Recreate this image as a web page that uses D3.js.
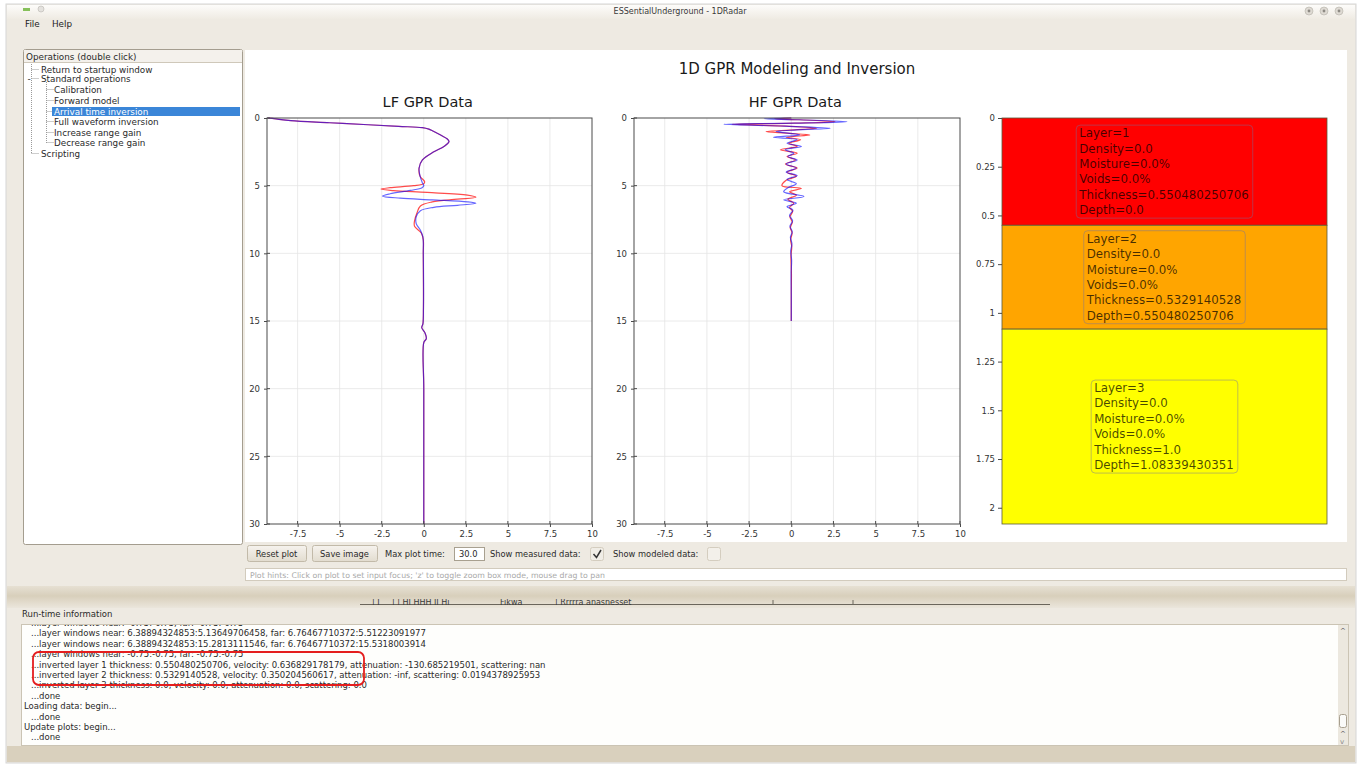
<!DOCTYPE html>
<html><head><meta charset="utf-8">
<script src="https://cdn.jsdelivr.net/npm/d3@7"></script>
<style>
html,body{margin:0;padding:0;background:#fff;}
svg{display:block;font-family:"DejaVu Sans",sans-serif;}
</style></head><body>
<svg id="app" width="1361" height="771"></svg>
<script>
// ---- Trace data: [two-way time, amplitude] ----
const ampTicks = [-7.5, -5, -2.5, 0, 2.5, 5, 7.5, 10];
const timeTicks = [0, 5, 10, 15, 20, 25, 30];
const depthTicks = [0, 0.25, 0.5, 0.75, 1, 1.25, 1.5, 1.75, 2];

const lfMeasured = [[0,-9.28],[0.05,-8.9],[0.2,-7.9],[0.35,-5.6],[0.5,-3.3],[0.62,-1.5],[0.71,-0.08],[0.82,0.3],[0.94,0.51],[1.26,1.0],[1.55,1.4],[1.75,1.5],[2.1,1.2],[2.5,0.6],[3.1,-0.08],[3.7,-0.28],[4.3,-0.22],[4.8,-0.08],[5.0,0.0],[5.15,-0.1],[5.35,-0.8],[5.6,-2.0],[5.77,-2.45],[5.92,-1.4],[6.05,0.5],[6.2,2.6],[6.3,3.1],[6.45,2.0],[6.6,0.6],[6.85,-0.2],[7.3,-0.45],[7.8,-0.45],[8.3,-0.2],[8.8,-0.05],[10,-0.03],[14,-0.02],[15.2,-0.05],[15.5,-0.12],[15.9,0.08],[16.3,0.15],[16.6,0.0],[20,0],[30,0]];
const lfModeled = [[0,-9.28],[0.05,-8.9],[0.2,-7.9],[0.35,-5.6],[0.5,-3.3],[0.62,-1.5],[0.71,-0.08],[0.82,0.3],[0.94,0.51],[1.26,1.0],[1.55,1.4],[1.75,1.5],[2.1,1.2],[2.5,0.6],[3.1,-0.08],[3.7,-0.28],[4.3,-0.22],[4.7,0.05],[4.85,0.0],[5.0,-0.6],[5.15,-2.0],[5.25,-2.55],[5.37,-1.8],[5.5,0.2],[5.7,2.6],[5.86,3.1],[6.0,2.0],[6.2,0.5],[6.5,-0.2],[7.0,-0.4],[7.6,-0.55],[8.0,-0.55],[8.5,-0.15],[9.0,-0.03],[10,-0.03],[14,-0.02],[15.2,-0.05],[15.5,-0.12],[15.9,0.08],[16.3,0.15],[16.6,0.0],[20,0],[30,0]];

const hfMeasured = [[0,0],[0.05,-1.6],[0.13,0.4],[0.27,3.3],[0.38,0.2],[0.47,-4.0],[0.6,-0.4],[0.76,2.3],[0.88,0.3],[1.0,-0.9],[1.12,-0.2],[1.25,0.5],[1.43,-1.05],[1.6,0.35],[1.87,-0.25],[2.1,0.6],[2.35,-0.35],[2.6,0.15],[2.85,-0.2],[3.1,0.35],[3.4,-0.3],[3.7,0.3],[4.0,-0.3],[4.25,0.35],[4.55,-0.25],[4.85,0.3],[5.15,-0.2],[5.45,-0.45],[5.8,0.75],[6.05,-0.45],[6.3,0.3],[6.55,-0.25],[6.8,0.1],[7.2,-0.1],[7.6,0.08],[8.0,-0.08],[8.4,0.06],[8.8,-0.05],[9.3,0.04],[9.8,-0.03],[10.5,0.02],[11.5,-0.01],[13,0],[15,0]];
const hfModeled = [[0,0],[0.05,-1.0],[0.13,0.5],[0.27,2.6],[0.38,0.2],[0.47,-3.5],[0.6,-0.3],[0.76,1.5],[0.88,0.2],[1.0,-1.5],[1.12,-0.3],[1.25,1.1],[1.43,-0.3],[1.6,0.55],[1.87,-0.15],[2.1,0.35],[2.35,-0.65],[2.6,0.35],[2.85,-0.25],[3.1,0.25],[3.4,-0.35],[3.7,0.35],[4.0,-0.25],[4.3,0.3],[4.6,-0.3],[5.0,-0.55],[5.2,0.6],[5.45,-0.1],[5.7,0.3],[6.0,-0.2],[6.3,0.15],[6.6,-0.1],[6.9,0.08],[7.3,-0.08],[7.7,0.06],[8.1,-0.06],[8.5,0.05],[9.0,-0.04],[9.5,0.03],[10.2,-0.02],[11.5,0.01],[13,0],[15,0]];

// ---- Inverted layer model ----
const layerIds = [1, 2, 3];
const layerDensity = ["0.0", "0.0", "0.0"];
const layerMoisture = ["0.0%", "0.0%", "0.0%"];
const layerVoids = ["0.0%", "0.0%", "0.0%"];
const layerThickness = ["0.550480250706", "0.5329140528", "1.0"];
const layerDepth = ["0.0", "0.550480250706", "1.08339430351"];

// ---- Run-time log ----
const logLines = [
  "...layer windows near: -0.75:-0.75, far: -0.75:-0.75",
  "...layer windows near: 6.38894324853:5.13649706458, far: 6.76467710372:5.51223091977",
  "...layer windows near: 6.38894324853:15.2813111546, far: 6.76467710372:15.5318003914",
  "...layer windows near: -0.75:-0.75, far: -0.75:-0.75",
  "...inverted layer 1 thickness: 0.550480250706, velocity: 0.636829178179, attenuation: -130.685219501, scattering: nan",
  "...inverted layer 2 thickness: 0.5329140528, velocity: 0.350204560617, attenuation: -inf, scattering: 0.0194378925953",
  "...inverted layer 3 thickness: 0.0, velocity: 0.0, attenuation: 0.0, scattering: 0.0",
  "...done",
  "Loading data: begin...",
  "...done",
  "Update plots: begin...",
  "...done"
];

const treeItems = [
  {label: "Return to startup window", level: 0},
  {label: "Standard operations", level: 0, open: true},
  {label: "Calibration", level: 1},
  {label: "Forward model", level: 1},
  {label: "Arrival time inversion", level: 1, selected: true},
  {label: "Full waveform inversion", level: 1},
  {label: "Increase range gain", level: 1},
  {label: "Decrease range gain", level: 1},
  {label: "Scripting", level: 0}
];

const layerColors = ["#ff0000", "#ffa500", "#ffff00"];

const svg = d3.select("#app");
const defs = svg.append("defs");

// ---------- window chrome ----------
svg.append("rect").attr("x", 0).attr("y", 0).attr("width", 1361).attr("height", 771).attr("fill", "#ffffff");
svg.append("rect").attr("x", 6).attr("y", 4).attr("width", 1350).attr("height", 759)
  .attr("fill", "#eeeae2").attr("stroke", "#d6d6d6");
const tb = defs.append("linearGradient").attr("id", "tbar").attr("x1", 0).attr("y1", 0).attr("x2", 0).attr("y2", 1);
tb.append("stop").attr("offset", 0).attr("stop-color", "#fdfcfa");
tb.append("stop").attr("offset", 1).attr("stop-color", "#efebe3");
svg.append("rect").attr("x", 7).attr("y", 5).attr("width", 1348).attr("height", 14).attr("fill", "url(#tbar)");
svg.append("rect").attr("x", 23).attr("y", 8).attr("width", 7).attr("height", 3).attr("fill", "#86c05a");
svg.append("circle").attr("cx", 41).attr("cy", 9).attr("r", 3).attr("fill", "#e4e2de").attr("stroke", "#b8b6b0").attr("stroke-width", 0.6);
svg.append("text").attr("x", 680).attr("y", 14).attr("text-anchor", "middle")
  .attr("font-size", 8).attr("fill", "#3a3a3a").text("ESSentialUnderground - 1DRadar");
[1309, 1324, 1339].forEach(cx => {
  svg.append("circle").attr("cx", cx).attr("cy", 11).attr("r", 4).attr("fill", "#dedad3").attr("stroke", "#b4b0a8").attr("stroke-width", 0.6);
  svg.append("circle").attr("cx", cx).attr("cy", 11).attr("r", 1.4).attr("fill", "#8d8a84");
});
svg.append("text").attr("x", 25).attr("y", 27).attr("font-size", 8.8).attr("fill", "#222").text("File");
svg.append("text").attr("x", 52).attr("y", 27).attr("font-size", 8.8).attr("fill", "#222").text("Help");

// ---------- operations tree ----------
svg.append("rect").attr("x", 23.5).attr("y", 49.5).attr("width", 219).attr("height", 495).attr("rx", 2)
  .attr("fill", "#ffffff").attr("stroke", "#a49d8f");
svg.append("rect").attr("x", 24).attr("y", 50).attr("width", 218).attr("height", 12).attr("fill", "#f4f1ec");
svg.append("line").attr("x1", 24).attr("x2", 242).attr("y1", 62.5).attr("y2", 62.5).attr("stroke", "#cfc8ba");
svg.append("text").attr("x", 26).attr("y", 60).attr("font-size", 8.8).attr("fill", "#2a2a2a").text("Operations (double click)");
const rowY = [70, 79, 90, 101, 112, 122, 133, 143, 154];
const tree = svg.append("g");
tree.append("line").attr("x1", 31.5).attr("x2", 31.5).attr("y1", 64).attr("y2", rowY[8]).attr("stroke", "#9a9a9a").attr("stroke-dasharray", "1,1");
tree.append("line").attr("x1", 46.5).attr("x2", 46.5).attr("y1", rowY[1] + 3).attr("y2", rowY[7]).attr("stroke", "#9a9a9a").attr("stroke-dasharray", "1,1");
treeItems.forEach((d, i) => {
  const y = rowY[i];
  const x0 = d.level === 0 ? 31.5 : 46.5;
  tree.append("line").attr("x1", x0).attr("x2", x0 + 8).attr("y1", y - 0.5).attr("y2", y - 0.5)
    .attr("stroke", "#9a9a9a").attr("stroke-dasharray", "1,1");
  if (d.selected) {
    tree.append("rect").attr("x", 52).attr("y", y - 5).attr("width", 188).attr("height", 9).attr("fill", "#3b86d8");
  }
  if (d.open) {
    tree.append("text").attr("x", 27.5).attr("y", y + 3).attr("font-size", 9).attr("fill", "#333").text("-");
  }
  tree.append("text").attr("x", d.level === 0 ? 41 : 54).attr("y", y + 3)
    .attr("font-size", 8.8).attr("fill", d.selected ? "#ffffff" : "#2a2a2a").text(d.label);
});

// ---------- figure canvas ----------
svg.append("rect").attr("x", 245).attr("y", 50).attr("width", 1102).attr("height", 492).attr("fill", "#ffffff");
svg.append("text").attr("x", 797).attr("y", 74).attr("text-anchor", "middle")
  .attr("font-size", 15).attr("fill", "#1a1a1a").text("1D GPR Modeling and Inversion");

const plotTop = 118, plotBottom = 524;
const tScale = d3.scaleLinear().domain([0, 30]).range([plotTop, plotBottom]);

function tracePanel(left, right, title, modeled, measured) {
  const ampDomainMin = -9.32;
  const x = d3.scaleLinear().domain([ampDomainMin, 10]).range([left, right]);
  const g = svg.append("g");
  g.append("text").attr("x", x(0) + 4).attr("y", 107).attr("text-anchor", "middle")
    .attr("font-size", 14.5).attr("fill", "#1a1a1a").text(title);
  // grid
  g.append("g").selectAll("line").data(ampTicks.slice(0, -1)).join("line")
    .attr("x1", d => x(d)).attr("x2", d => x(d)).attr("y1", plotTop).attr("y2", plotBottom)
    .attr("stroke", "#e4e4e4").attr("stroke-width", 0.8);
  g.append("g").selectAll("line").data(timeTicks.slice(1, -1)).join("line")
    .attr("x1", left).attr("x2", right).attr("y1", d => tScale(d)).attr("y2", d => tScale(d))
    .attr("stroke", "#e4e4e4").attr("stroke-width", 0.8);
  // traces
  const line = d3.line().x(d => x(d[1])).y(d => tScale(d[0])).curve(d3.curveCatmullRom.alpha(0.5));
  g.append("path").datum(modeled).attr("d", line).attr("fill", "none")
    .attr("stroke", "#ff0000").attr("stroke-opacity", 0.7).attr("stroke-width", 1.2);
  g.append("path").datum(measured).attr("d", line).attr("fill", "none")
    .attr("stroke", "#0000ff").attr("stroke-opacity", 0.6).attr("stroke-width", 1.2);
  // frame
  g.append("rect").attr("x", left).attr("y", plotTop).attr("width", right - left).attr("height", plotBottom - plotTop)
    .attr("fill", "none").attr("stroke", "#4a4a4a").attr("stroke-width", 1);
  // axes
  const ax = g.append("g").attr("transform", `translate(0,${plotBottom})`)
    .call(d3.axisBottom(x).tickValues(ampTicks).tickSize(3).tickPadding(4).tickFormat(d => String(d)));
  const ay = g.append("g").attr("transform", `translate(${left},0)`)
    .call(d3.axisLeft(tScale).tickValues(timeTicks).tickSize(3).tickPadding(4).tickFormat(d => String(d)));
  [ax, ay].forEach(a => {
    a.select(".domain").remove();
    a.selectAll("line").attr("stroke", "#4a4a4a");
    a.selectAll("text").attr("font-size", 8.5).attr("fill", "#333").attr("font-family", "DejaVu Sans");
  });
  // inner tick halves
  g.append("g").selectAll("line").data(ampTicks).join("line")
    .attr("x1", d => x(d)).attr("x2", d => x(d)).attr("y1", plotBottom - 3).attr("y2", plotBottom)
    .attr("stroke", "#4a4a4a");
  g.append("g").selectAll("line").data(timeTicks).join("line")
    .attr("x1", left).attr("x2", left + 3).attr("y1", d => tScale(d)).attr("y2", d => tScale(d))
    .attr("stroke", "#4a4a4a");
}
tracePanel(267, 592, "LF GPR Data", lfModeled, lfMeasured);
tracePanel(634, 960, "HF GPR Data", hfModeled, hfMeasured);

// ---------- layer model panel ----------
const lLeft = 1002, lRight = 1327;
const depthTotal = +layerDepth[2] + +layerThickness[2];
const dScale = d3.scaleLinear().domain([0, depthTotal]).range([plotTop, plotBottom]);
const lg = svg.append("g");
layerIds.forEach((id, i) => {
  const top = +layerDepth[i];
  const bot = i < layerIds.length - 1 ? +layerDepth[i + 1] : top + +layerThickness[i];
  lg.append("rect").attr("x", lLeft).attr("y", dScale(top)).attr("width", lRight - lLeft)
    .attr("height", dScale(bot) - dScale(top)).attr("fill", layerColors[i])
    .attr("stroke", "#5a5a3a").attr("stroke-width", 0.8);
});
layerIds.forEach((id, i) => {
  const top = +layerDepth[i];
  const bot = i < layerIds.length - 1 ? +layerDepth[i + 1] : top + +layerThickness[i];
  const cy = (dScale(top) + dScale(bot)) / 2;
  const lines = [
    `Layer=${id}`, `Density=${layerDensity[i]}`, `Moisture=${layerMoisture[i]}`,
    `Voids=${layerVoids[i]}`, `Thickness=${layerThickness[i]}`, `Depth=${layerDepth[i]}`
  ];
  const box = lg.append("g");
  const rect = box.append("rect");
  const txt = box.append("text").attr("font-size", 11.8).attr("fill", "#000").attr("fill-opacity", 0.72);
  const lh = 15.4;
  const y0 = cy - lh * 2.5 + 4;
  lines.forEach((s, k) => txt.append("tspan").attr("x", 0).attr("y", y0 + k * lh).text(s));
  const w = txt.node().getBBox().width;
  const cx = (lLeft + lRight) / 2;
  txt.selectAll("tspan").attr("x", cx - w / 2);
  rect.attr("x", cx - w / 2 - 3).attr("y", cy - 46.5).attr("width", w + 6).attr("height", 93).attr("rx", 4)
    .attr("fill", "none").attr("stroke", "#7070a0").attr("stroke-opacity", 0.45).attr("stroke-width", 1);
});
const ld = lg.append("g").attr("transform", `translate(${lLeft},0)`)
  .call(d3.axisLeft(dScale).tickValues(depthTicks).tickSize(4).tickPadding(3).tickFormat(d => String(d)));
ld.select(".domain").remove();
ld.selectAll("line").attr("stroke", "#4a4a4a");
ld.selectAll("text").attr("font-size", 8.5).attr("fill", "#333").attr("font-family", "DejaVu Sans");

// ---------- plot controls ----------
const bg = defs.append("linearGradient").attr("id", "btn").attr("x1", 0).attr("y1", 0).attr("x2", 0).attr("y2", 1);
bg.append("stop").attr("offset", 0).attr("stop-color", "#f6f3ee");
bg.append("stop").attr("offset", 1).attr("stop-color", "#e2dccf");
function button(x, w, label) {
  svg.append("rect").attr("x", x + 0.5).attr("y", 545.5).attr("width", w).attr("height", 16).attr("rx", 2)
    .attr("fill", "url(#btn)").attr("stroke", "#c2baa9");
  svg.append("text").attr("x", x + w / 2).attr("y", 557).attr("text-anchor", "middle")
    .attr("font-size", 8.3).attr("fill", "#2a2a2a").text(label);
}
button(247, 59, "Reset plot");
button(312, 65, "Save image");
svg.append("text").attr("x", 385).attr("y", 557).attr("font-size", 8.3).attr("fill", "#2a2a2a").text("Max plot time:");
svg.append("rect").attr("x", 454.5).attr("y", 547.5).attr("width", 30).attr("height", 13)
  .attr("fill", "#fff").attr("stroke", "#a8a090");
svg.append("text").attr("x", 459).attr("y", 557).attr("font-size", 8.3).attr("fill", "#2a2a2a").text("30.0");
svg.append("text").attr("x", 490).attr("y", 557).attr("font-size", 8.3).attr("fill", "#2a2a2a").text("Show measured data:");
svg.append("rect").attr("x", 590.5).attr("y", 547.5).attr("width", 13).attr("height", 13).attr("rx", 2)
  .attr("fill", "#f0ede6").attr("stroke", "#d4cdbf");
svg.append("path").attr("d", "M593.5,554 L596.5,557.5 L601,550").attr("fill", "none").attr("stroke", "#333").attr("stroke-width", 1.5);
svg.append("text").attr("x", 613).attr("y", 557).attr("font-size", 8.3).attr("fill", "#2a2a2a").text("Show modeled data:");
svg.append("rect").attr("x", 707.5).attr("y", 547.5).attr("width", 13).attr("height", 13).attr("rx", 2)
  .attr("fill", "#f3f0ea").attr("stroke", "#d4cdbf");
svg.append("rect").attr("x", 245.5).attr("y", 568.5).attr("width", 1101).attr("height", 12)
  .attr("fill", "#ffffff").attr("stroke", "#d2cbbd");
svg.append("text").attr("x", 250).attr("y", 577.5).attr("font-size", 7.8).attr("fill", "#a9a9a9")
  .text("Plot hints: Click on plot to set input focus; 'z' to toggle zoom box mode, mouse drag to pan");

// ---------- splitter band ----------
const sb = defs.append("linearGradient").attr("id", "split").attr("x1", 0).attr("y1", 0).attr("x2", 0).attr("y2", 1);
sb.append("stop").attr("offset", 0).attr("stop-color", "#e6e0d3");
sb.append("stop").attr("offset", 0.45).attr("stop-color", "#d8cfbb");
sb.append("stop").attr("offset", 1).attr("stop-color", "#ebe6dc");
svg.append("rect").attr("x", 7).attr("y", 586).attr("width", 1348).attr("height", 22).attr("fill", "url(#split)");
svg.append("line").attr("x1", 360).attr("x2", 1050).attr("y1", 604.5).attr("y2", 604.5).attr("stroke", "#6b665c").attr("stroke-width", 1);
defs.append("clipPath").attr("id", "stripClip").append("rect").attr("x", 0).attr("y", 599).attr("width", 1361).attr("height", 6);
const strip = svg.append("g").attr("clip-path", "url(#stripClip)").attr("font-size", 8).attr("fill", "#3a3a3a");
[[372, "| I"], [392, "| | HI HHH II Hi"], [500, "Fikwa"], [555, "| Rrrrra anasnesset"]].forEach(([x, s]) => {
  strip.append("text").attr("x", x).attr("y", 605).text(s);
});
[773, 853].forEach(x => svg.append("line").attr("x1", x).attr("x2", x).attr("y1", 600).attr("y2", 605).attr("stroke", "#6b665c"));

// ---------- run-time information ----------
svg.append("text").attr("x", 22).attr("y", 617).attr("font-size", 8.5).attr("fill", "#2a2a2a").text("Run-time information");
svg.append("rect").attr("x", 21.5).attr("y", 624.5).attr("width", 1327).attr("height", 121)
  .attr("fill", "#fefefc").attr("stroke", "#cbc4b4");
defs.append("clipPath").attr("id", "logClip").append("rect").attr("x", 22).attr("y", 625).attr("width", 1315).attr("height", 120);
const log = svg.append("g").attr("clip-path", "url(#logClip)");
logLines.forEach((s, i) => {
  const indent = s.startsWith("...") ? 31 : 24;
  log.append("text").attr("x", indent).attr("y", 626 + i * 10.4).attr("font-size", 8.5)
    .attr("fill", "#2a2a2a").text(s);
});
log.append("rect").attr("x", 33).attr("y", 652).attr("width", 331).attr("height", 33).attr("rx", 6)
  .attr("fill", "none").attr("stroke", "#e41e1e").attr("stroke-width", 1.8);
// scrollbar
svg.append("rect").attr("x", 1338).attr("y", 625).attr("width", 10).attr("height", 120).attr("fill", "#ece8df");
svg.append("text").attr("x", 1340).attr("y", 633).attr("font-size", 7).attr("fill", "#555").text("^");
svg.append("rect").attr("x", 1339.5).attr("y", 714.5).attr("width", 7).attr("height", 13).attr("rx", 2)
  .attr("fill", "#fafaf8").attr("stroke", "#a8a090");
svg.append("text").attr("x", 1340).attr("y", 736).attr("font-size", 7).attr("fill", "#555").text("^");
svg.append("text").attr("x", 1340).attr("y", 744).attr("font-size", 7).attr("fill", "#888").text("v");
// bottom band
svg.append("rect").attr("x", 7).attr("y", 746).attr("width", 1348).attr("height", 16).attr("fill", "#d9d0bd");
</script>
</body></html>
